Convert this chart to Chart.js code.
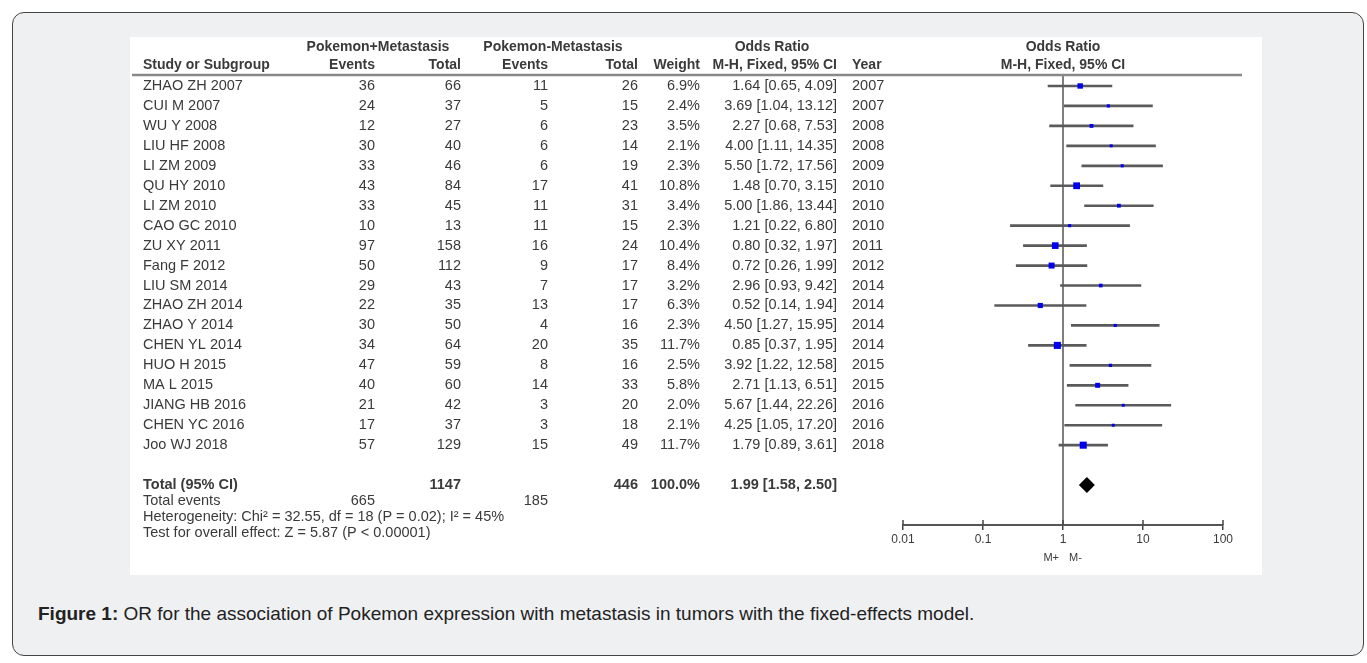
<!DOCTYPE html>
<html>
<head>
<meta charset="utf-8">
<script src="https://cdn.jsdelivr.net/npm/chart.js@4/dist/chart.umd.min.js"></script>
<style>
  html, body { margin: 0; padding: 0; background: #fff; }
  body { width: 1367px; height: 663px; position: relative; overflow: hidden; font-family: "Liberation Sans", Arial, sans-serif; }
  .frame {
    position: absolute; left: 12px; top: 12px; width: 1350px; height: 642px;
    border: 1px solid #444; border-radius: 12px; background: #eff0f2;
  }
  .panel { position: absolute; left: 130px; top: 37px; width: 1132px; height: 538px; background: #fff; }
  .caption {
    position: absolute; left: 38px; top: 603px; font-size: 19px; line-height: 22px; color: #222;
    font-family: "Liberation Sans Narrow", "Arial Narrow", "Liberation Sans", Arial, sans-serif;
  }
  .caption b { font-weight: bold; }
</style>
</head>
<body>
<div class="frame"></div>
<div class="panel"><canvas id="forest" width="1132" height="538"></canvas></div>
<div class="caption"><b>Figure 1:</b> OR for the association of Pokemon expression with metastasis in tumors with the fixed-effects model.</div>

<script>
// study data
const studies = ["ZHAO ZH 2007", "CUI M 2007", "WU Y 2008", "LIU HF 2008", "LI ZM 2009", "QU HY 2010",
  "LI ZM 2010", "CAO GC 2010", "ZU XY 2011", "Fang F 2012", "LIU SM 2014", "ZHAO ZH 2014",
  "ZHAO Y 2014", "CHEN YL 2014", "HUO H 2015", "MA L 2015", "JIANG HB 2016", "CHEN YC 2016", "Joo WJ 2018"];
const posEvents = [36, 24, 12, 30, 33, 43, 33, 10, 97, 50, 29, 22, 30, 34, 47, 40, 21, 17, 57];
const posTotal = [66, 37, 27, 40, 46, 84, 45, 13, 158, 112, 43, 35, 50, 64, 59, 60, 42, 37, 129];
const negEvents = [11, 5, 6, 6, 6, 17, 11, 11, 16, 9, 7, 13, 4, 20, 8, 14, 3, 3, 15];
const negTotal = [26, 15, 23, 14, 19, 41, 31, 15, 24, 17, 17, 17, 16, 35, 16, 33, 20, 18, 49];
const weights = [6.9, 2.4, 3.5, 2.1, 2.3, 10.8, 3.4, 2.3, 10.4, 8.4, 3.2, 6.3, 2.3, 11.7, 2.5, 5.8, 2.0, 2.1, 11.7];
const oddsRatio = [1.64, 3.69, 2.27, 4.00, 5.50, 1.48, 5.00, 1.21, 0.80, 0.72, 2.96, 0.52, 4.50, 0.85, 3.92, 2.71, 5.67, 4.25, 1.79];
const ciLow = [0.65, 1.04, 0.68, 1.11, 1.72, 0.70, 1.86, 0.22, 0.32, 0.26, 0.93, 0.14, 1.27, 0.37, 1.22, 1.13, 1.44, 1.05, 0.89];
const ciHigh = [4.09, 13.12, 7.53, 14.35, 17.56, 3.15, 13.44, 6.80, 1.97, 1.99, 9.42, 1.94, 15.95, 1.95, 12.58, 6.51, 22.26, 17.20, 3.61];
const years = [2007, 2007, 2008, 2008, 2009, 2010, 2010, 2010, 2011, 2012, 2014, 2014, 2014, 2014, 2015, 2015, 2016, 2016, 2018];

// pooled result
const totalPosEvents = 665, totalPos = 1147, totalNegEvents = 185, totalNeg = 446;
const totalWeight = 100.0, totalOR = 1.99, totalLow = 1.58, totalHigh = 2.50;
const heterogeneity = "Heterogeneity: Chi\u00b2 = 32.55, df = 18 (P = 0.02); I\u00b2 = 45%";
const overallTest = "Test for overall effect: Z = 5.87 (P < 0.00001)";

// x axis
const xTicks = [0.01, 0.1, 1, 10, 100];
const xTickLabels = ["0.01", "0.1", "1", "10", "100"];
const nullValue = 1;
const favourLabels = ["M+", "M-"];

// row positions on the y scale (study i sits at i)
const totalRow = 20, eventsRow = 20.8, hetRow = 21.6, testRow = 22.4;

// column layout (canvas px)
const col = { study: 13, e1: 245, t1: 331, e2: 418, t2: 508, w: 570, or: 707, year: 722 };
const TXT = "#3a3a3a";
const FONT = '"Liberation Sans", Arial, sans-serif';

const fmt2 = v => v.toFixed(2);
const orText = (o, l, h) => `${fmt2(o)} [${fmt2(l)}, ${fmt2(h)}]`;

const tablePlugin = {
  id: "forestTable",
  afterDraw(chart) {
    const ctx = chart.ctx;
    const ys = chart.scales.y, xs = chart.scales.x, area = chart.chartArea;
    const mid = (area.left + area.right) / 2;
    ctx.save();
    ctx.fillStyle = TXT;
    ctx.textBaseline = "middle";
    function put(t, px, py, align, bold, size) {
      ctx.font = (bold ? "bold " : "") + (size || 14.5) + "px " + FONT;
      ctx.textAlign = align;
      ctx.fillText(String(t), px, py);
    }

    // header
    put("Pokemon+Metastasis", 248, 10, "center", true, 14);
    put("Pokemon-Metastasis", 423, 10, "center", true, 14);
    put("Odds Ratio", 642, 10, "center", true, 14);
    put("Odds Ratio", mid, 10, "center", true, 14);
    put("Study or Subgroup", col.study, 28, "left", true, 14);
    put("Events", col.e1, 28, "right", true, 14);
    put("Total", col.t1, 28, "right", true, 14);
    put("Events", col.e2, 28, "right", true, 14);
    put("Total", col.t2, 28, "right", true, 14);
    put("Weight", col.w, 28, "right", true, 14);
    put("M-H, Fixed, 95% CI", col.or, 28, "right", true, 14);
    put("Year", col.year, 28, "left", true, 14);
    put("M-H, Fixed, 95% CI", mid, 28, "center", true, 14);

    ctx.strokeStyle = "#888";
    ctx.lineWidth = 2.5;
    ctx.beginPath();
    ctx.moveTo(2, 38);
    ctx.lineTo(1112, 38);
    ctx.stroke();

    // study rows
    studies.forEach((s, i) => {
      const py = ys.getPixelForValue(i);
      put(s, col.study, py, "left");
      put(posEvents[i], col.e1, py, "right");
      put(posTotal[i], col.t1, py, "right");
      put(negEvents[i], col.e2, py, "right");
      put(negTotal[i], col.t2, py, "right");
      put(weights[i].toFixed(1) + "%", col.w, py, "right");
      put(orText(oddsRatio[i], ciLow[i], ciHigh[i]), col.or, py, "right");
      put(years[i], col.year, py, "left");
    });

    // totals
    let py = ys.getPixelForValue(totalRow);
    put("Total (95% CI)", col.study, py, "left", true);
    put(totalPos, col.t1, py, "right", true);
    put(totalNeg, col.t2, py, "right", true);
    put(totalWeight.toFixed(1) + "%", col.w, py, "right", true);
    put(orText(totalOR, totalLow, totalHigh), col.or, py, "right", true);
    py = ys.getPixelForValue(eventsRow);
    put("Total events", col.study, py, "left");
    put(totalPosEvents, col.e1, py, "right");
    put(totalNegEvents, col.e2, py, "right");
    put(heterogeneity, col.study, ys.getPixelForValue(hetRow), "left");
    put(overallTest, col.study, ys.getPixelForValue(testRow), "left");

    // pooled diamond
    const dy = ys.getPixelForValue(totalRow);
    ctx.fillStyle = "#000";
    ctx.beginPath();
    ctx.moveTo(xs.getPixelForValue(totalLow), dy);
    ctx.lineTo(xs.getPixelForValue(totalOR), dy - 8);
    ctx.lineTo(xs.getPixelForValue(totalHigh), dy);
    ctx.lineTo(xs.getPixelForValue(totalOR), dy + 8);
    ctx.closePath();
    ctx.fill();

    // tick marks poking above the axis
    ctx.strokeStyle = "#444";
    ctx.lineWidth = 1.5;
    xs.ticks.forEach(t => {
      const px = xs.getPixelForValue(t.value);
      ctx.beginPath();
      ctx.moveTo(px, area.bottom - 5);
      ctx.lineTo(px, area.bottom);
      ctx.stroke();
    });

    // favours labels
    ctx.fillStyle = TXT;
    const nx = xs.getPixelForValue(nullValue);
    put(favourLabels[0], nx - 4, area.bottom + 33, "right", false, 11);
    put(favourLabels[1], nx + 6, area.bottom + 33, "left", false, 11);
    ctx.restore();
  }
};

new Chart(document.getElementById("forest"), {
  type: "bar",
  data: {
    datasets: [
      {
        type: "line",
        data: [{ x: nullValue, y: -0.5 }, { x: nullValue, y: 22 }],
        borderColor: "#555",
        borderWidth: 1.5,
        pointRadius: 0,
        order: 3
      },
      {
        type: "bar",
        data: studies.map((s, i) => ({ y: i, x: [ciLow[i], ciHigh[i]] })),
        backgroundColor: "#5a5a5a",
        barThickness: 2,
        order: 2
      },
      {
        type: "scatter",
        data: studies.map((s, i) => ({ y: i, x: oddsRatio[i] })),
        pointStyle: "rect",
        pointRadius: ctx => 1.46 * Math.sqrt(weights[ctx.dataIndex]),
        backgroundColor: "#0000ee",
        borderWidth: 0,
        order: 1
      }
    ]
  },
  options: {
    indexAxis: "y",
    responsive: false,
    devicePixelRatio: 1,
    animation: false,
    layout: { padding: { left: 773, right: 39, top: 39, bottom: 10 } },
    plugins: { legend: { display: false }, tooltip: { enabled: false } },
    scales: {
      x: {
        type: "logarithmic",
        min: 0.01,
        max: 100,
        afterBuildTicks: s => { s.ticks = xTicks.map(v => ({ value: v })); },
        afterFit: s => { s.height = 40; },
        ticks: {
          autoSkip: false,
          maxRotation: 0,
          padding: 2,
          color: TXT,
          font: { size: 12, family: FONT },
          callback: (v, i) => xTickLabels[i]
        },
        grid: { drawOnChartArea: false, tickLength: 5, color: "#444", lineWidth: 1.5 },
        border: { display: true, color: "#555", width: 2 }
      },
      y: {
        type: "linear",
        reverse: true,
        offset: false,
        min: -0.5,
        max: 22,
        display: false,
        grid: { offset: false }
      }
    }
  },
  plugins: [tablePlugin]
});
</script>
</body>
</html>
